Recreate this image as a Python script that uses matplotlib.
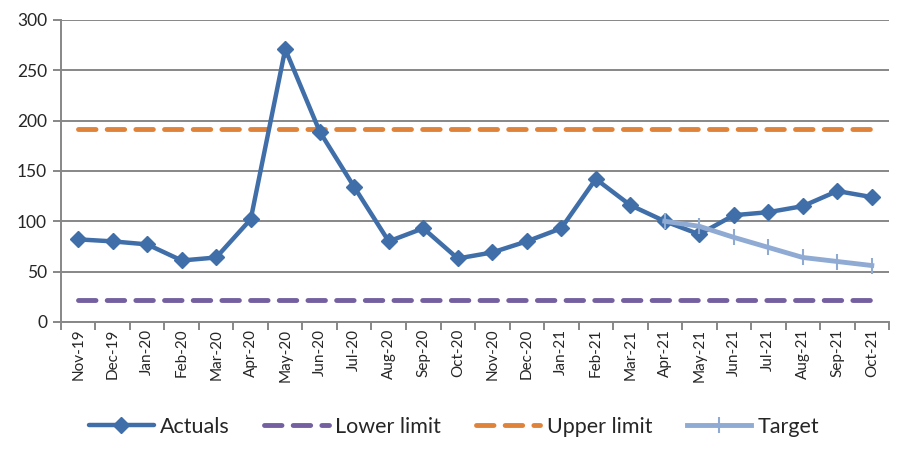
import matplotlib
matplotlib.use("Agg")
import matplotlib.pyplot as plt
import numpy as np

plt.rcParams['font.family'] = ['Lato', 'DejaVu Sans']

months = ["Nov-19", "Dec-19", "Jan-20", "Feb-20", "Mar-20", "Apr-20", "May-20", "Jun-20",
          "Jul-20", "Aug-20", "Sep-20", "Oct-20", "Nov-20", "Dec-20", "Jan-21", "Feb-21",
          "Mar-21", "Apr-21", "May-21", "Jun-21", "Jul-21", "Aug-21", "Sep-21", "Oct-21"]
actuals = [82, 80, 77, 61, 64, 102, 271, 189, 134, 80, 93, 63,
           69, 80, 93, 142, 116, 100, 87, 106, 109, 115, 130, 124]
lower_limit = 22
upper_limit = 192
target_start = "Apr-21"
target = [100, 95, 84, 74, 64, 60, 56]

x = np.arange(len(months))
t0 = months.index(target_start)
xt = x[t0:t0 + len(target)]

fig = plt.figure(figsize=(9.14, 4.54), dpi=100)
ax = fig.add_axes([0.0667, 0.291, 0.906, 0.665])

c_act = "#3F6EA8"
c_low = "#7460A0"
c_up = "#E0833A"
c_tgt = "#8FAAD3"

ax.plot(x, actuals, color=c_act, lw=3.2, marker="D", ms=8, zorder=4,
        label="Actuals", solid_capstyle="round")
ax.plot(x, [lower_limit] * len(x), color=c_low, lw=3.5, dashes=(3.6, 2.3),
        dash_capstyle="round", zorder=3, label="Lower limit")
ax.plot(x, [upper_limit] * len(x), color=c_up, lw=3.5, dashes=(3.6, 2.3),
        dash_capstyle="round", zorder=3, label="Upper limit")
ax.plot(xt, target, color=c_tgt, lw=3.5, marker="|", ms=11, mew=1.5, zorder=5,
        label="Target")

ax.set_ylim(0, 300)
ax.set_yticks(np.arange(0, 301, 50))
ax.set_xlim(-0.5, len(months) - 0.5)
ax.grid(axis="y", color="#878787", lw=1.4)
ax.set_axisbelow(True)

for s in ("top", "right"):
    ax.spines[s].set_visible(False)
for s in ("left", "bottom"):
    ax.spines[s].set_color("#878787")
    ax.spines[s].set_linewidth(1.4)

ax.set_xticks(x)
ax.set_xticklabels(months, rotation=90, fontsize=11, color="#262626")
ax.tick_params(axis="x", which="major", length=0, pad=5)
ax.set_xticks(np.arange(-0.5, len(months), 1), minor=True)
ax.tick_params(axis="x", which="minor", length=6, width=1.4, color="#878787")
ax.tick_params(axis="y", length=6, width=1.4, color="#878787", labelsize=12.5,
               labelcolor="#262626", pad=4)

leg = ax.legend(loc="upper center", bbox_to_anchor=(0.475, -0.25), ncol=4, frameon=False,
                fontsize=15.5, handlelength=3.0, columnspacing=1.6, handletextpad=0.3)
for txt in leg.get_texts():
    txt.set_color("#262626")

fig.savefig("out.png", dpi=100)
